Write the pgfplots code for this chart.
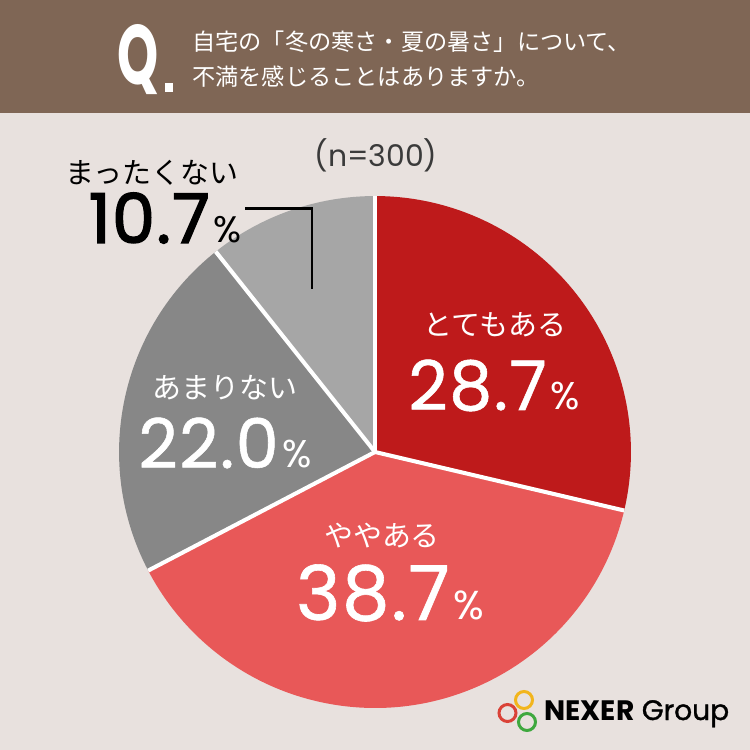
\documentclass[border=0pt]{standalone}
\usepackage{pgfplots}
\pgfplotsset{compat=1.18}
\usepackage{graphicx}
\usepackage{fontspec}
\setmainfont{Poppins}
\newfontfamily\jp{Noto Sans CJK JP}
\newfontfamily\popmed{Poppins}[FakeBold=0.8,LetterSpace=2]
\newfontfamily\popsb{Poppins}[FakeBold=2.2,LetterSpace=2]
\newfontfamily\popreg{Poppins}
\newfontfamily\poplt{Poppins}[FakeBold=1.2]
\newcommand\fs[1]{\fontsize{#1}{#1}\selectfont}
\definecolor{bg}{HTML}{E8E1DE}
\definecolor{hdr}{HTML}{7F6655}
\definecolor{c1}{HTML}{BE1A1B}
\definecolor{c2}{HTML}{E85858}
\definecolor{c3}{HTML}{878787}
\definecolor{c4}{HTML}{A6A6A6}
\definecolor{ntxt}{HTML}{3A3A3A}
\definecolor{lred}{HTML}{DA4237}
\definecolor{lyel}{HTML}{F2B51C}
\definecolor{lgrn}{HTML}{3EA83E}
% data (percent)
\def\vA{28.7}\def\vB{38.7}\def\vC{22.0}\def\vD{10.7}
\pgfmathsetmacro\tot{\vA+\vB+\vC+\vD}
\pgfmathsetmacro\aA{90}
\pgfmathsetmacro\aB{\aA-360*\vA/\tot}
\pgfmathsetmacro\aC{\aB-360*\vB/\tot}
\pgfmathsetmacro\aD{\aC-360*\vC/\tot}
\pgfmathsetmacro\aE{\aD-360*\vD/\tot}
\def\R{5.12cm}
\newcommand\pct[1]{\kern2pt{\popreg\fs{#1}\%}}
\begin{document}
\begin{tikzpicture}
\begin{axis}[x=0.02cm,y=0.02cm,xmin=0,xmax=750,ymin=0,ymax=750,
  hide axis,clip=false,scale only axis]
\fill[bg] (axis cs:0,0) rectangle (axis cs:750,750);
\fill[hdr] (axis cs:0,637) rectangle (axis cs:750,750);
% pie
\fill[c1] (axis cs:375,298) -- ++(\aA:\R) arc[start angle=\aA,end angle=\aB,radius=\R] -- cycle;
\fill[c2] (axis cs:375,298) -- ++(\aB:\R) arc[start angle=\aB,end angle=\aC,radius=\R] -- cycle;
\fill[c3] (axis cs:375,298) -- ++(\aC:\R) arc[start angle=\aC,end angle=\aD,radius=\R] -- cycle;
\fill[c4] (axis cs:375,298) -- ++(\aD:\R) arc[start angle=\aD,end angle=\aE,radius=\R] -- cycle;
\draw[white,line width=2.3pt] (axis cs:375,298) -- ++(\aA:\R);
\draw[white,line width=2.3pt] (axis cs:375,298) -- ++(\aB:\R);
\draw[white,line width=2.3pt] (axis cs:375,298) -- ++(\aC:\R);
\draw[white,line width=2.3pt] (axis cs:375,298) -- ++(\aD:\R);
% header
\node[anchor=base west,inner sep=0,white] at (axis cs:117,665)
  {\fs{48pt}\bfseries\scalebox{0.62}[1]{Q}};
\fill[white] (axis cs:165,658) rectangle (axis cs:173,667);
\node[anchor=base west,inner sep=0,white,text height=9pt,text depth=1.5pt] at (axis cs:192,699)
  {\jp\fs{13.2pt}自宅の「冬の寒さ・夏の暑さ」について、};
\node[anchor=base west,inner sep=0,white,text height=9pt,text depth=1.5pt] at (axis cs:192,664)
  {\jp\fs{13.2pt}不満を感じることはありますか。};
% n
\node[anchor=base,inner sep=0,text=ntxt] at (axis cs:376,583)
  {\fs{17pt}(n=300)};
% labels
\node[anchor=base,inner sep=0,black] at (axis cs:152,566) {\jp\fs{16.5pt}まったくない};
\node[anchor=base,inner sep=0,black] at (axis cs:165,507)
  {\popsb\fs{39pt}10.7\pct{21pt}};
\draw[black,line width=1.7pt] (axis cs:245,541) -- (axis cs:312,541) -- (axis cs:312,461);
\node[anchor=base,inner sep=0,white] at (axis cs:495,414) {\jp\fs{16.5pt}とてもある};
\node[anchor=base,inner sep=0,white] at (axis cs:494,340)
  {\popmed\fs{39pt}28.7\pct{22pt}};
\node[anchor=base,inner sep=0,white] at (axis cs:382,203) {\jp\fs{16.5pt}ややある};
\node[anchor=base,inner sep=0,white] at (axis cs:390,130)
  {\popmed\fs{43pt}38.7\pct{23pt}};
\node[anchor=base,inner sep=0,white] at (axis cs:225,351) {\jp\fs{16.5pt}あまりない};
\node[anchor=base,inner sep=0,white] at (axis cs:225,282)
  {\popmed\fs{39pt}22.0\pct{22pt}};
% logo
\draw[lyel,line width=1.7pt] (axis cs:524,50) circle[radius=0.17cm];
\draw[lred,line width=1.7pt] (axis cs:507.5,37) circle[radius=0.17cm];
\draw[lgrn,line width=1.7pt] (axis cs:527,28) circle[radius=0.17cm];
\node[anchor=base west,inner sep=0,black] at (axis cs:544,30)
  {\fs{16pt}{\bfseries NEXER} \poplt Group};
\end{axis}
\end{tikzpicture}
\end{document}
